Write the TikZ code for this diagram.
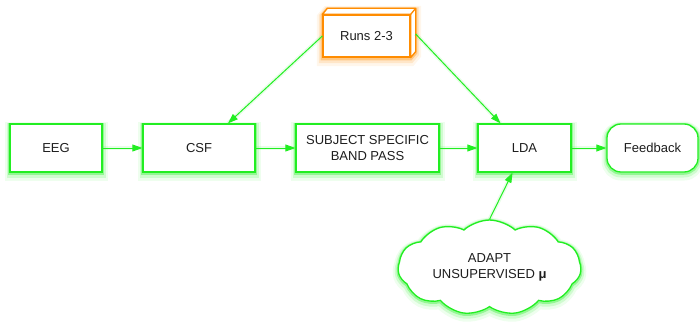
\documentclass[tikz,border=0pt]{standalone}
\usepackage{fontspec}
\setmainfont{Liberation Sans}
\usetikzlibrary{arrows.meta,shapes.symbols,calc,backgrounds}
\definecolor{boxgreen}{RGB}{34,238,34}
\definecolor{runorange}{RGB}{255,140,0}
\definecolor{txt}{RGB}{30,30,30}
\begin{document}
\begin{tikzpicture}[x=1pt,y=-1pt,
  glow/.style={
    preaction={draw=#1, line width=11pt, opacity=0.08, transform canvas={yshift=-3pt}},
    preaction={draw=#1, line width=7pt, opacity=0.15, transform canvas={yshift=-2pt}},
    preaction={draw=#1, line width=3.5pt, opacity=0.35, transform canvas={yshift=-1pt}}},
  label font/.style={font=\fontsize{13}{15.6}\selectfont, text=txt},
  box/.style={draw=boxgreen, line width=1.3pt, fill=white, glow=boxgreen,
    label font, align=center, inner sep=0pt, minimum height=48pt},
  flow/.style={draw=boxgreen, line width=1pt, -{Triangle[length=10pt,width=7pt]},
    preaction={draw=boxgreen, line width=4pt, opacity=0.1, -}}
]
\useasboundingbox (0,0) rectangle (700,321);

% processing chain
\node[box, minimum width=92pt]  (eeg) at (56,148)    {EEG};
\node[box, minimum width=112pt] (csf) at (199,148)   {CSF};
\node[box, minimum width=143pt] (bp)  at (367.5,148) {SUBJECT SPECIFIC\\BAND PASS};
\node[box, minimum width=93pt]  (lda) at (524.5,148) {LDA};
\node[box, minimum width=91pt, rounded corners=14pt] (fb) at (652.5,148) {Feedback};

% unsupervised adaptation
\node[cloud, cloud puffs=11, cloud puff arc=85, aspect=2,
  draw=boxgreen, line width=1.3pt, fill=white, glow=boxgreen,
  minimum width=183pt, minimum height=89pt, inner sep=0pt,
  label font, align=center] (adapt) at (489.5,267.5) {ADAPT\\UNSUPERVISED \textbf{μ}};

% 3D block for the calibration runs
\node[draw=runorange, line width=1.3pt, fill=white, inner sep=0pt,
  minimum width=87pt, minimum height=42pt, label font] (runs) at (366.5,36) {Runs 2-3};
\draw[runorange, line width=1.3pt, fill=white, line join=round]
  (runs.north west) -- ++(5,-6) -- ($(runs.north east)+(5,-6)$)
  -- ($(runs.south east)+(5,-6)$) -- (runs.south east) -- (runs.north east) -- cycle;
\draw[runorange, line width=1.3pt] (runs.north east) -- ++(5,-6);
\begin{scope}[on background layer]
  \path[glow=runorange] (runs.north west) -- ++(5,-6) -- ($(runs.north east)+(5,-6)$)
    -- ($(runs.south east)+(5,-6)$) -- (runs.south east) -- (runs.south west) -- cycle;
\end{scope}
\coordinate (rback) at ($(runs.east)+(5,-2)$);

% connectors
\draw[flow] (eeg) -- (csf);
\draw[flow] (csf) -- (bp);
\draw[flow] (bp) -- (lda);
\draw[flow] (lda) -- (fb);
\draw[flow] (runs.west) -- ($(csf.north)+(29,0)$);
\draw[flow] (rback) -- ($(lda.north)+(-24,0)$);
\draw[flow] (adapt.north) -- ($(lda.south)+(-12,0)$);
\end{tikzpicture}
\end{document}
